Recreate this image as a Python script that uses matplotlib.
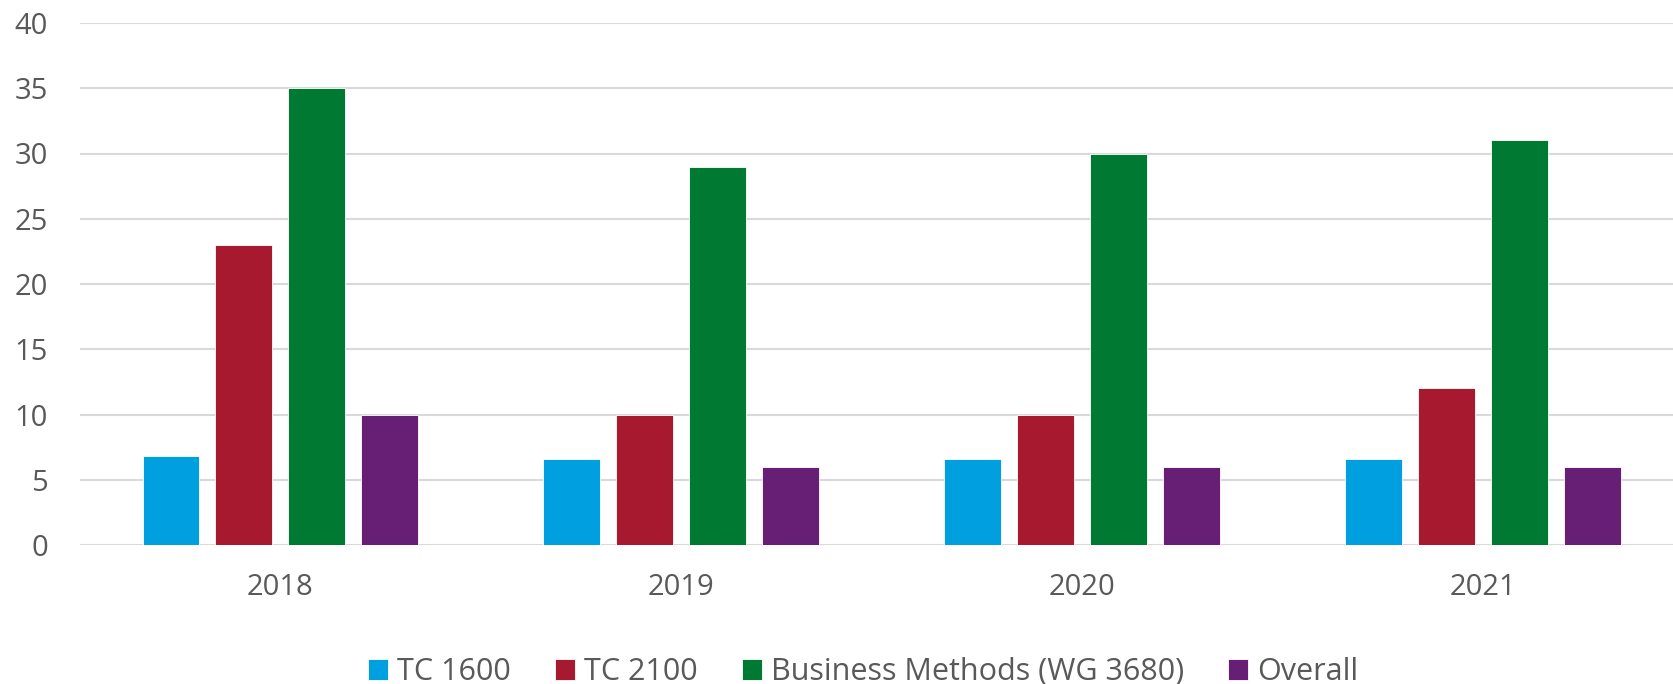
import matplotlib
matplotlib.use("Agg")
import matplotlib.pyplot as plt
import numpy as np

plt.rcParams["font.family"] = ["Open Sans", "DejaVu Sans"]

anios = ["2018", "2019", "2020", "2021"]
series = ["TC 1600", "TC 2100", "Business Methods (WG 3680)", "Overall"]
tc1600 = [6.8, 6.6, 6.6, 6.6]
tc2100 = [23, 10, 10, 12]
business = [35, 29, 30, 31]
overall = [10, 6, 6, 6]
colores = ["#009FDF", "#A6192E", "#007A33", "#671E75"]

gris = "#595959"
fig = plt.figure(figsize=(16.73, 6.84), dpi=100)
ax = fig.add_axes([80 / 1673, 139 / 684, 1 - 80 / 1673, 522 / 684])

x = np.arange(len(anios))
paso = 0.182
ancho = 0.142
for i, (nombre, vals, c) in enumerate(zip(series, [tc1600, tc2100, business, overall], colores)):
    ax.bar(x + (i - 1.5) * paso, vals, width=ancho, color=c, label=nombre,
           edgecolor="white", linewidth=0.6, zorder=3)

ax.set_ylim(0, 40)
ax.set_yticks(range(0, 41, 5))
ax.set_xlim(-0.5, 3.475)
ax.set_xticks(x)
ax.set_xticklabels(anios)
ax.grid(axis="y", color="#d9d9d9", linewidth=1.5, zorder=0)
for s in ax.spines.values():
    s.set_visible(False)
ax.tick_params(axis="y", length=0, pad=23, labelsize=21, labelcolor=gris)
ax.tick_params(axis="x", length=0, pad=20, labelsize=21, labelcolor=gris)

fig.legend(loc="lower center", ncol=4, frameon=False, fontsize=22,
           labelcolor=gris, handlelength=0.65, handleheight=0.65,
           handletextpad=0.3, columnspacing=1.45,
           bbox_to_anchor=(0.516, -0.045))

fig.savefig("out.png", dpi=100)
